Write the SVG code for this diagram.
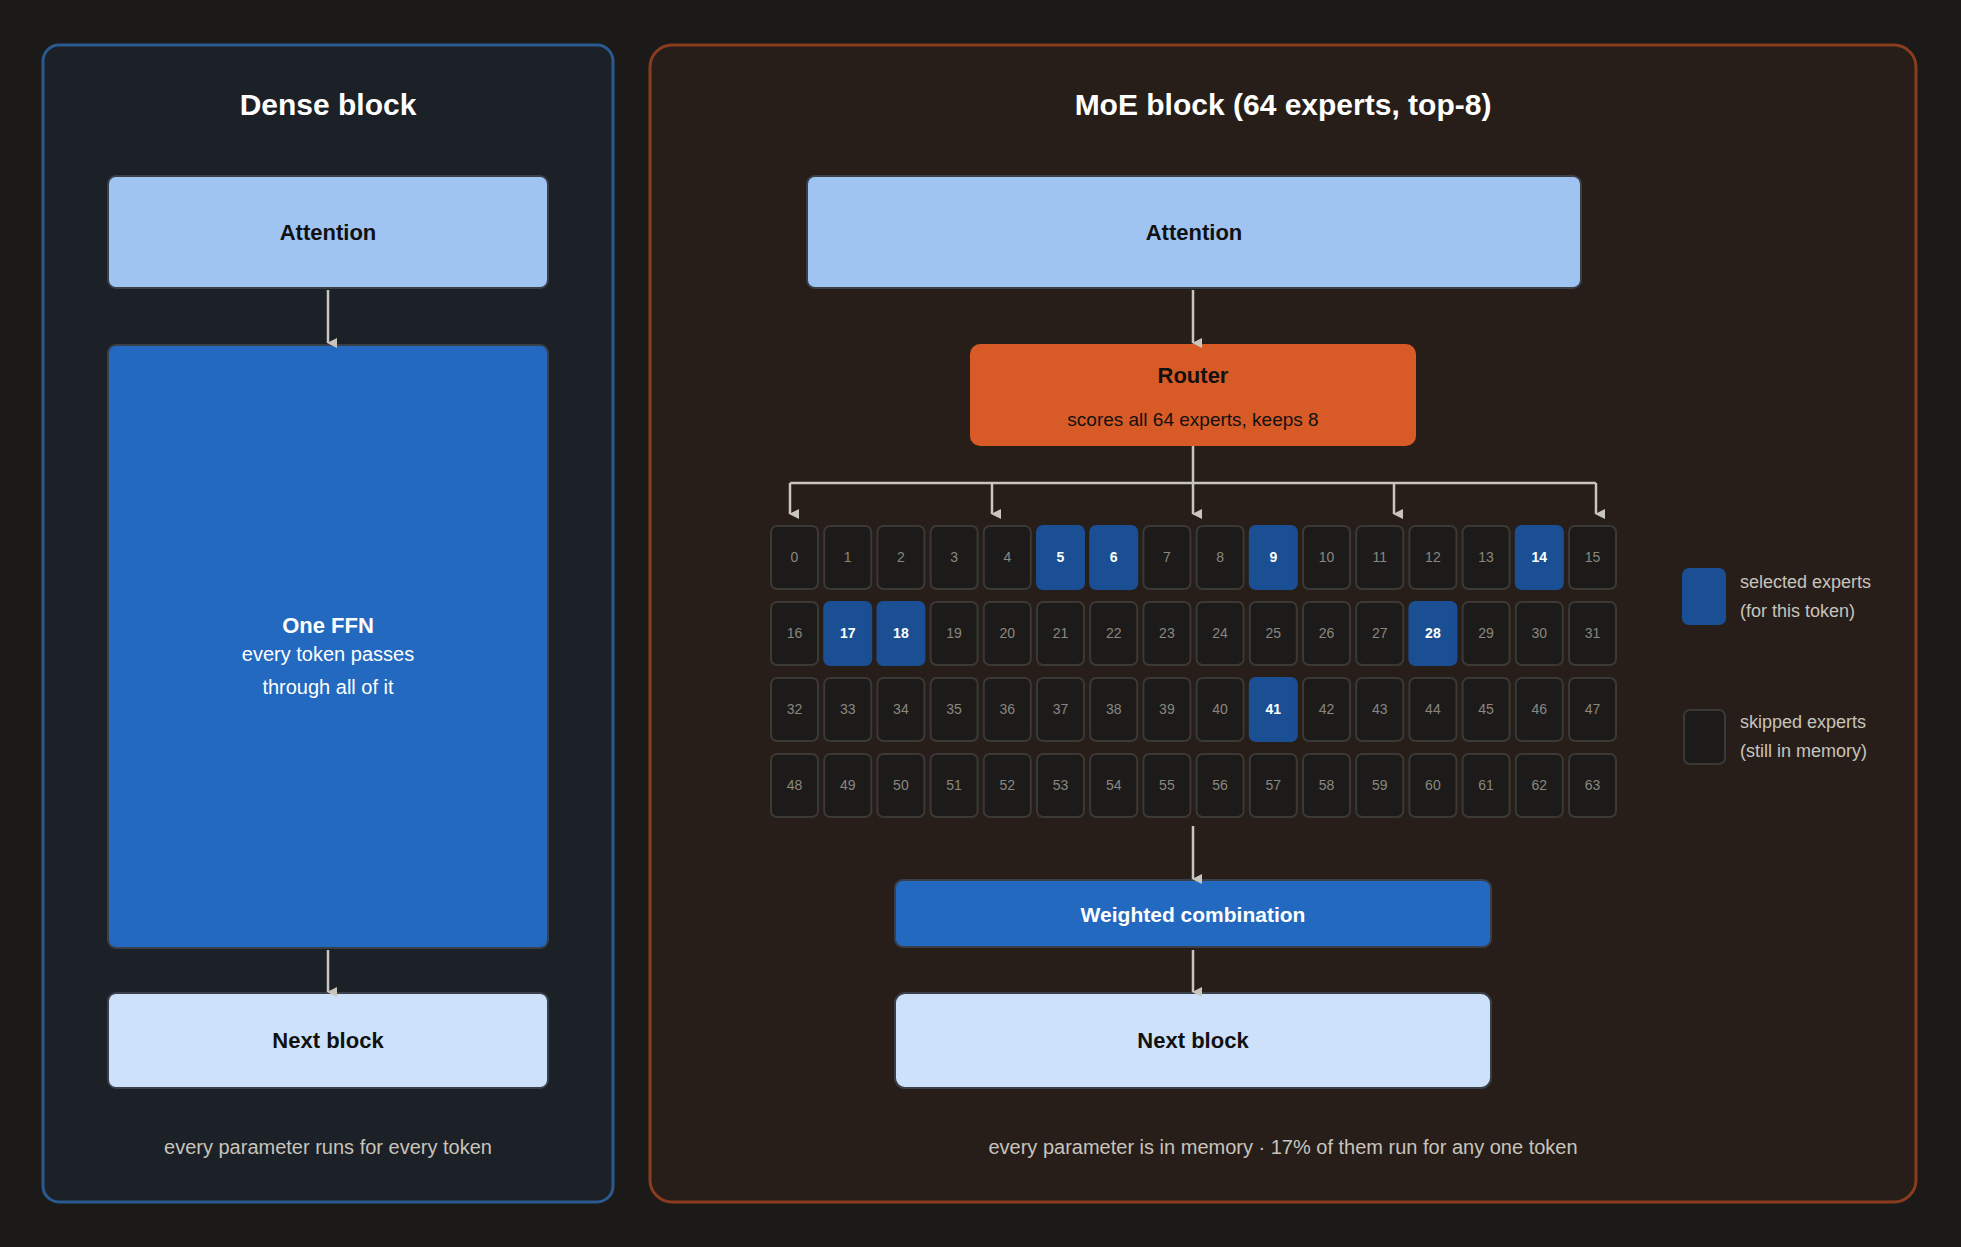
<svg xmlns="http://www.w3.org/2000/svg" width="1961" height="1247" viewBox="0 0 1961 1247">
<defs>
<marker id="ah" markerWidth="10" markerHeight="10" refX="5" refY="9" orient="auto-start-reverse" markerUnits="userSpaceOnUse" viewBox="0 0 10 10"><path d="M0,0 L10,0 L5,10 Z" transform="rotate(0)" fill="#c8c5bc"/></marker>
<style>
text{font-family:"Liberation Sans",Arial,sans-serif;text-anchor:middle}
.t{font-size:30px;font-weight:bold;fill:#fff}
.b{font-weight:bold;font-size:22px;fill:#111}
.ft{font-size:20px;fill:#c8c4bc}
.c{fill:#1c1b19;stroke:#3a3935;stroke-width:2}
.s{fill:#1a4f94;stroke:#1a4f94;stroke-width:2}
.ct{font-size:14px;fill:#8a8780}
.st{font-size:14px;fill:#fff;font-weight:bold}
.lg{font-size:18px;fill:#c8c4bc;text-anchor:start}
.ln{stroke:#c8c5bc;stroke-width:2.5;fill:none}
</style>
</defs>
<rect width="1961" height="1247" fill="#1b1a18"/>
<g id="dense-panel">
<rect x="43" y="45" width="570" height="1157" rx="16" fill="#1c2027" stroke="#2a5a8f" stroke-width="3"/>
<text class="t" x="328" y="115">Dense block</text>
<text class="ft" x="328" y="1154">every parameter runs for every token</text>
</g>
<g id="moe-panel">
<rect x="650" y="45" width="1266" height="1157" rx="22" fill="#271e1a" stroke="#8a3c1e" stroke-width="3"/>
<text class="t" x="1283" y="115">MoE block (64 experts, top-8)</text>
<text class="ft" x="1283" y="1154">every parameter is in memory  ·  17% of them run for any one token</text>
</g>
<g id="dense-attention"><rect x="108" y="176" width="440" height="112" rx="8" fill="#a0c4f2" stroke="#3a3f48" stroke-width="2"/><text class="b" x="328" y="240">Attention</text></g>
<g id="dense-ffn"><rect x="108" y="345" width="440" height="603" rx="8" fill="#2469c0" stroke="#3a3f48" stroke-width="2"/>
<text x="328" y="633" style="font-size:22px;font-weight:bold;fill:#fff">One FFN</text>
<text x="328" y="661" style="font-size:20px;fill:#fff">every token passes</text>
<text x="328" y="694" style="font-size:20px;fill:#fff">through all of it</text></g>
<g id="dense-next"><rect x="108" y="993" width="440" height="95" rx="8" fill="#cde2fa" stroke="#3a3f48" stroke-width="2"/><text class="b" x="328" y="1048">Next block</text></g>
<g id="moe-attention"><rect x="807" y="176" width="774" height="112" rx="8" fill="#a0c4f2" stroke="#3a3f48" stroke-width="2"/><text class="b" x="1194" y="240">Attention</text></g>
<g id="router"><rect x="970" y="344" width="446" height="102" rx="10" fill="#d85a26"/>
<text class="b" x="1193" y="383">Router</text>
<text x="1193" y="426" style="font-size:19px;fill:#111">scores all 64 experts, keeps 8</text></g>
<g id="weighted"><rect x="895" y="880" width="596" height="67" rx="8" fill="#2469c0" stroke="#3a3f48" stroke-width="2"/><text x="1193" y="922" style="font-size:21px;font-weight:bold;fill:#fff">Weighted combination</text></g>
<g id="moe-next"><rect x="895" y="993" width="596" height="95" rx="10" fill="#cde2fa" stroke="#3a3f48" stroke-width="2"/><text class="b" x="1193" y="1048">Next block</text></g>
<g id="experts">
<g id="e0"><rect class="c" x="771.0" y="526" width="47" height="63" rx="6"/><text class="ct" x="794.5" y="562">0</text></g>
<g id="e1"><rect class="c" x="824.2" y="526" width="47" height="63" rx="6"/><text class="ct" x="847.7" y="562">1</text></g>
<g id="e2"><rect class="c" x="877.4" y="526" width="47" height="63" rx="6"/><text class="ct" x="900.9" y="562">2</text></g>
<g id="e3"><rect class="c" x="930.6" y="526" width="47" height="63" rx="6"/><text class="ct" x="954.1" y="562">3</text></g>
<g id="e4"><rect class="c" x="983.8" y="526" width="47" height="63" rx="6"/><text class="ct" x="1007.3" y="562">4</text></g>
<g id="e5"><rect class="s" x="1037.0" y="526" width="47" height="63" rx="6"/><text class="st" x="1060.5" y="562">5</text></g>
<g id="e6"><rect class="s" x="1090.2" y="526" width="47" height="63" rx="6"/><text class="st" x="1113.7" y="562">6</text></g>
<g id="e7"><rect class="c" x="1143.4" y="526" width="47" height="63" rx="6"/><text class="ct" x="1166.9" y="562">7</text></g>
<g id="e8"><rect class="c" x="1196.6" y="526" width="47" height="63" rx="6"/><text class="ct" x="1220.1" y="562">8</text></g>
<g id="e9"><rect class="s" x="1249.8" y="526" width="47" height="63" rx="6"/><text class="st" x="1273.3" y="562">9</text></g>
<g id="e10"><rect class="c" x="1303.0" y="526" width="47" height="63" rx="6"/><text class="ct" x="1326.5" y="562">10</text></g>
<g id="e11"><rect class="c" x="1356.2" y="526" width="47" height="63" rx="6"/><text class="ct" x="1379.7" y="562">11</text></g>
<g id="e12"><rect class="c" x="1409.4" y="526" width="47" height="63" rx="6"/><text class="ct" x="1432.9" y="562">12</text></g>
<g id="e13"><rect class="c" x="1462.6" y="526" width="47" height="63" rx="6"/><text class="ct" x="1486.1" y="562">13</text></g>
<g id="e14"><rect class="s" x="1515.8" y="526" width="47" height="63" rx="6"/><text class="st" x="1539.3" y="562">14</text></g>
<g id="e15"><rect class="c" x="1569.0" y="526" width="47" height="63" rx="6"/><text class="ct" x="1592.5" y="562">15</text></g>
<g id="e16"><rect class="c" x="771.0" y="602" width="47" height="63" rx="6"/><text class="ct" x="794.5" y="638">16</text></g>
<g id="e17"><rect class="s" x="824.2" y="602" width="47" height="63" rx="6"/><text class="st" x="847.7" y="638">17</text></g>
<g id="e18"><rect class="s" x="877.4" y="602" width="47" height="63" rx="6"/><text class="st" x="900.9" y="638">18</text></g>
<g id="e19"><rect class="c" x="930.6" y="602" width="47" height="63" rx="6"/><text class="ct" x="954.1" y="638">19</text></g>
<g id="e20"><rect class="c" x="983.8" y="602" width="47" height="63" rx="6"/><text class="ct" x="1007.3" y="638">20</text></g>
<g id="e21"><rect class="c" x="1037.0" y="602" width="47" height="63" rx="6"/><text class="ct" x="1060.5" y="638">21</text></g>
<g id="e22"><rect class="c" x="1090.2" y="602" width="47" height="63" rx="6"/><text class="ct" x="1113.7" y="638">22</text></g>
<g id="e23"><rect class="c" x="1143.4" y="602" width="47" height="63" rx="6"/><text class="ct" x="1166.9" y="638">23</text></g>
<g id="e24"><rect class="c" x="1196.6" y="602" width="47" height="63" rx="6"/><text class="ct" x="1220.1" y="638">24</text></g>
<g id="e25"><rect class="c" x="1249.8" y="602" width="47" height="63" rx="6"/><text class="ct" x="1273.3" y="638">25</text></g>
<g id="e26"><rect class="c" x="1303.0" y="602" width="47" height="63" rx="6"/><text class="ct" x="1326.5" y="638">26</text></g>
<g id="e27"><rect class="c" x="1356.2" y="602" width="47" height="63" rx="6"/><text class="ct" x="1379.7" y="638">27</text></g>
<g id="e28"><rect class="s" x="1409.4" y="602" width="47" height="63" rx="6"/><text class="st" x="1432.9" y="638">28</text></g>
<g id="e29"><rect class="c" x="1462.6" y="602" width="47" height="63" rx="6"/><text class="ct" x="1486.1" y="638">29</text></g>
<g id="e30"><rect class="c" x="1515.8" y="602" width="47" height="63" rx="6"/><text class="ct" x="1539.3" y="638">30</text></g>
<g id="e31"><rect class="c" x="1569.0" y="602" width="47" height="63" rx="6"/><text class="ct" x="1592.5" y="638">31</text></g>
<g id="e32"><rect class="c" x="771.0" y="678" width="47" height="63" rx="6"/><text class="ct" x="794.5" y="714">32</text></g>
<g id="e33"><rect class="c" x="824.2" y="678" width="47" height="63" rx="6"/><text class="ct" x="847.7" y="714">33</text></g>
<g id="e34"><rect class="c" x="877.4" y="678" width="47" height="63" rx="6"/><text class="ct" x="900.9" y="714">34</text></g>
<g id="e35"><rect class="c" x="930.6" y="678" width="47" height="63" rx="6"/><text class="ct" x="954.1" y="714">35</text></g>
<g id="e36"><rect class="c" x="983.8" y="678" width="47" height="63" rx="6"/><text class="ct" x="1007.3" y="714">36</text></g>
<g id="e37"><rect class="c" x="1037.0" y="678" width="47" height="63" rx="6"/><text class="ct" x="1060.5" y="714">37</text></g>
<g id="e38"><rect class="c" x="1090.2" y="678" width="47" height="63" rx="6"/><text class="ct" x="1113.7" y="714">38</text></g>
<g id="e39"><rect class="c" x="1143.4" y="678" width="47" height="63" rx="6"/><text class="ct" x="1166.9" y="714">39</text></g>
<g id="e40"><rect class="c" x="1196.6" y="678" width="47" height="63" rx="6"/><text class="ct" x="1220.1" y="714">40</text></g>
<g id="e41"><rect class="s" x="1249.8" y="678" width="47" height="63" rx="6"/><text class="st" x="1273.3" y="714">41</text></g>
<g id="e42"><rect class="c" x="1303.0" y="678" width="47" height="63" rx="6"/><text class="ct" x="1326.5" y="714">42</text></g>
<g id="e43"><rect class="c" x="1356.2" y="678" width="47" height="63" rx="6"/><text class="ct" x="1379.7" y="714">43</text></g>
<g id="e44"><rect class="c" x="1409.4" y="678" width="47" height="63" rx="6"/><text class="ct" x="1432.9" y="714">44</text></g>
<g id="e45"><rect class="c" x="1462.6" y="678" width="47" height="63" rx="6"/><text class="ct" x="1486.1" y="714">45</text></g>
<g id="e46"><rect class="c" x="1515.8" y="678" width="47" height="63" rx="6"/><text class="ct" x="1539.3" y="714">46</text></g>
<g id="e47"><rect class="c" x="1569.0" y="678" width="47" height="63" rx="6"/><text class="ct" x="1592.5" y="714">47</text></g>
<g id="e48"><rect class="c" x="771.0" y="754" width="47" height="63" rx="6"/><text class="ct" x="794.5" y="790">48</text></g>
<g id="e49"><rect class="c" x="824.2" y="754" width="47" height="63" rx="6"/><text class="ct" x="847.7" y="790">49</text></g>
<g id="e50"><rect class="c" x="877.4" y="754" width="47" height="63" rx="6"/><text class="ct" x="900.9" y="790">50</text></g>
<g id="e51"><rect class="c" x="930.6" y="754" width="47" height="63" rx="6"/><text class="ct" x="954.1" y="790">51</text></g>
<g id="e52"><rect class="c" x="983.8" y="754" width="47" height="63" rx="6"/><text class="ct" x="1007.3" y="790">52</text></g>
<g id="e53"><rect class="c" x="1037.0" y="754" width="47" height="63" rx="6"/><text class="ct" x="1060.5" y="790">53</text></g>
<g id="e54"><rect class="c" x="1090.2" y="754" width="47" height="63" rx="6"/><text class="ct" x="1113.7" y="790">54</text></g>
<g id="e55"><rect class="c" x="1143.4" y="754" width="47" height="63" rx="6"/><text class="ct" x="1166.9" y="790">55</text></g>
<g id="e56"><rect class="c" x="1196.6" y="754" width="47" height="63" rx="6"/><text class="ct" x="1220.1" y="790">56</text></g>
<g id="e57"><rect class="c" x="1249.8" y="754" width="47" height="63" rx="6"/><text class="ct" x="1273.3" y="790">57</text></g>
<g id="e58"><rect class="c" x="1303.0" y="754" width="47" height="63" rx="6"/><text class="ct" x="1326.5" y="790">58</text></g>
<g id="e59"><rect class="c" x="1356.2" y="754" width="47" height="63" rx="6"/><text class="ct" x="1379.7" y="790">59</text></g>
<g id="e60"><rect class="c" x="1409.4" y="754" width="47" height="63" rx="6"/><text class="ct" x="1432.9" y="790">60</text></g>
<g id="e61"><rect class="c" x="1462.6" y="754" width="47" height="63" rx="6"/><text class="ct" x="1486.1" y="790">61</text></g>
<g id="e62"><rect class="c" x="1515.8" y="754" width="47" height="63" rx="6"/><text class="ct" x="1539.3" y="790">62</text></g>
<g id="e63"><rect class="c" x="1569.0" y="754" width="47" height="63" rx="6"/><text class="ct" x="1592.5" y="790">63</text></g>
</g>
<g id="legend">
<rect class="s" x="1683" y="569" width="42" height="55" rx="6"/>
<text class="lg" x="1740" y="588">selected experts</text>
<text class="lg" x="1740" y="617">(for this token)</text>
<rect class="c" x="1684" y="710" width="41" height="54" rx="6"/>
<text class="lg" x="1740" y="728">skipped experts</text>
<text class="lg" x="1740" y="757">(still in memory)</text>
</g>
<g id="connectors">
<line class="ln" x1="328" y1="290" x2="328" y2="343" marker-end="url(#ah)"/>
<line class="ln" x1="328" y1="950" x2="328" y2="992" marker-end="url(#ah)"/>
<line class="ln" x1="1193" y1="290" x2="1193" y2="343" marker-end="url(#ah)"/>
<path class="ln" d="M1193,446 V483 M790,483 H1596"/>
<line class="ln" x1="790" y1="483" x2="790" y2="514" marker-end="url(#ah)"/>
<line class="ln" x1="992" y1="483" x2="992" y2="514" marker-end="url(#ah)"/>
<line class="ln" x1="1193" y1="483" x2="1193" y2="514" marker-end="url(#ah)"/>
<line class="ln" x1="1394" y1="483" x2="1394" y2="514" marker-end="url(#ah)"/>
<line class="ln" x1="1596" y1="483" x2="1596" y2="514" marker-end="url(#ah)"/>
<line class="ln" x1="1193" y1="826" x2="1193" y2="879" marker-end="url(#ah)"/>
<line class="ln" x1="1193" y1="950" x2="1193" y2="992" marker-end="url(#ah)"/>
</g>
</svg>
